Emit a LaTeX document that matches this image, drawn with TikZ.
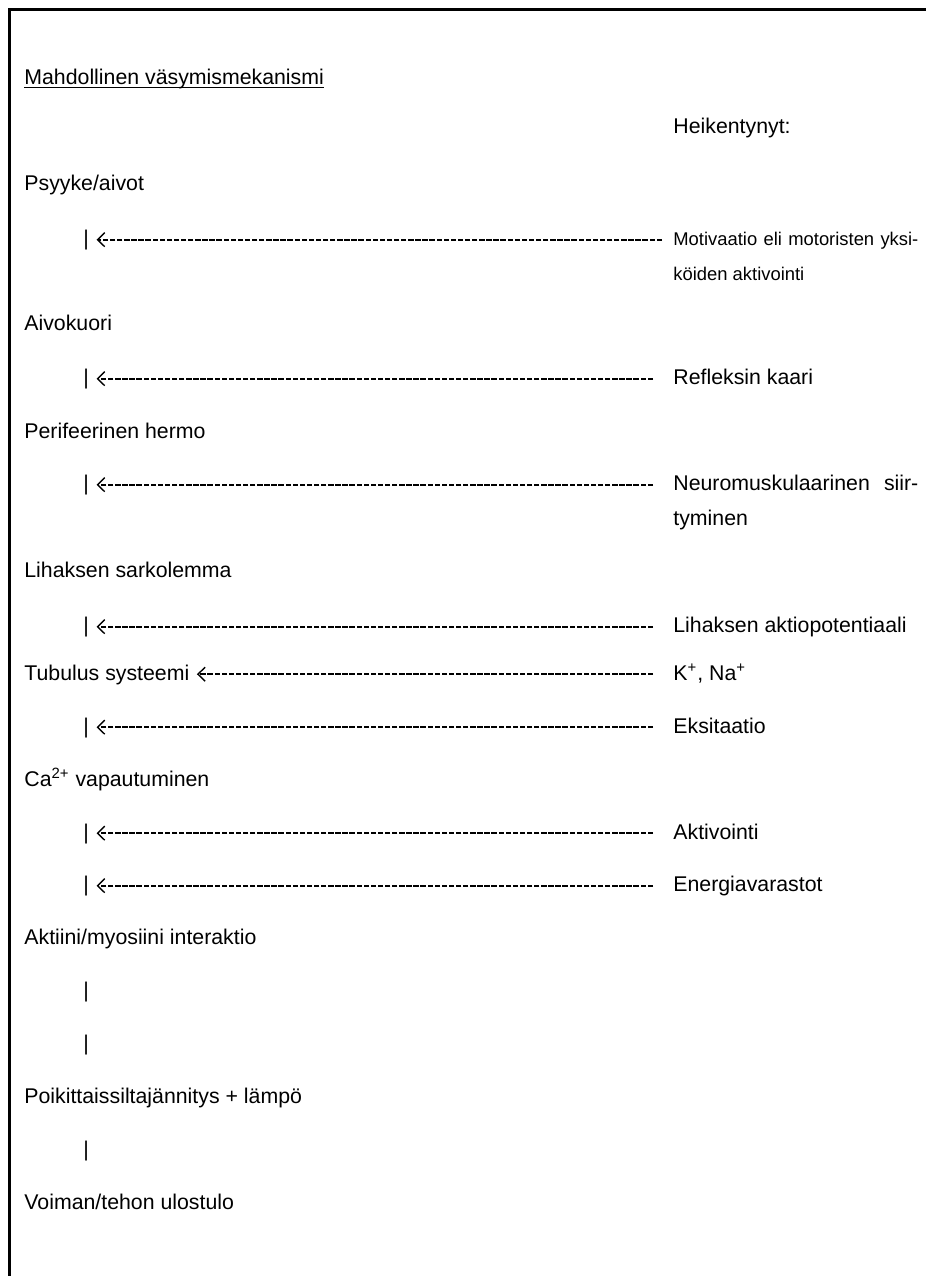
\documentclass[tikz,border=0pt]{standalone}
\usepackage{fontspec}
\setmainfont{Liberation Sans}
\usetikzlibrary{arrows.meta}
\newcommand{\bigfnt}{\fontsize{10.65pt}{12pt}\selectfont}
\newcommand{\smallfnt}{\fontsize{9.2pt}{11pt}\selectfont}
\begin{document}
\begin{tikzpicture}[x=0.5pt,y=-0.5pt,
  txt/.style={anchor=base west, inner sep=0pt, font=\bigfnt},
  smalltxt/.style={anchor=base west, inner sep=0pt, font=\smallfnt},
  conn/.style={line width=0.8pt, dash pattern=on 2.7pt off 0.85pt,
    -{Straight Barb[length=3.6pt,width=7pt,line width=0.7pt]},
    shorten >=3.6pt, shorten <=10pt},
  frame/.style={line width=1.5pt}
]
\useasboundingbox (0,0) rectangle (926,1276);
\draw[frame] (9,1276) -- (9,9) -- (926,9);

\node[txt] (title) at (24,84) {Mahdollinen väsymismekanismi};
\draw[line width=0.65pt] ([yshift=-1.75pt]title.base west) -- ([yshift=-1.75pt]title.base east);

\node[txt] (heik) at (673,133.5) {Heikentynyt:};

\node[txt] (psyyke) at (24,190.5) {Psyyke/aivot};
\node[txt] (b1) at (83,245.5) {|};
\node[smalltxt] (r1) at (673,245.5) {\makebox[122.5pt][s]{Motivaatio eli motoristen yksi-}};
\node[smalltxt] (r1b) at (673,280.5) {köiden aktivointi};
\draw[conn, shorten <=5.5pt] ([yshift=2.9pt]r1.base west) -- ([yshift=2.9pt]b1.base east);

\node[txt] (aivokuori) at (24,330.5) {Aivokuori};
\node[txt] (b2) at (83,384.5) {|};
\node[txt] (r2) at (673,384.5) {Refleksin kaari};
\draw[conn] ([yshift=2.9pt]r2.base west) -- ([yshift=2.9pt]b2.base east);

\node[txt] (perif) at (24,438.5) {Perifeerinen hermo};
\node[txt] (b3) at (83,490.5) {|};
\node[txt] (r3) at (673,490.5) {\makebox[122.5pt][s]{Neuromuskulaarinen siir-}};
\node[txt] (r3b) at (673,525.5) {tyminen};
\draw[conn] ([yshift=2.9pt]r3.base west) -- ([yshift=2.9pt]b3.base east);

\node[txt] (sark) at (24,577.5) {Lihaksen sarkolemma};
\node[txt] (b4) at (83,632.5) {|};
\node[txt] (r4) at (673,632.5) {Lihaksen aktiopotentiaali};
\draw[conn] ([yshift=2.9pt]r4.base west) -- ([yshift=2.9pt]b4.base east);

\node[txt] (tub) at (24,680) {Tubulus systeemi};
\node[txt] (r5) at (673,680) {K\textsuperscript{+}, Na\textsuperscript{+}};
\draw[conn] ([yshift=2.9pt]r5.base west) -- ([yshift=2.9pt]tub.base east);

\node[txt] (b6) at (83,733) {|};
\node[txt] (r6) at (673,733) {Eksitaatio};
\draw[conn] ([yshift=2.9pt]r6.base west) -- ([yshift=2.9pt]b6.base east);

\node[txt] (ca) at (24,786) {Ca\textsuperscript{2+} vapautuminen};
\node[txt] (b7) at (83,839) {|};
\node[txt] (r7) at (673,839) {Aktivointi};
\draw[conn] ([yshift=2.9pt]r7.base west) -- ([yshift=2.9pt]b7.base east);

\node[txt] (b8) at (83,891.5) {|};
\node[txt] (r8) at (673,891.5) {Energiavarastot};
\draw[conn] ([yshift=2.9pt]r8.base west) -- ([yshift=2.9pt]b8.base east);

\node[txt] (akt) at (24,944.5) {Aktiini/myosiini interaktio};
\node[txt] (b9) at (83,997) {|};
\node[txt] (b10) at (83,1050) {|};
\node[txt] (poik) at (24,1103) {Poikittaissiltajännitys + lämpö};
\node[txt] (b11) at (83,1156) {|};
\node[txt] (voim) at (24,1209) {Voiman/tehon ulostulo};
\end{tikzpicture}
\end{document}
